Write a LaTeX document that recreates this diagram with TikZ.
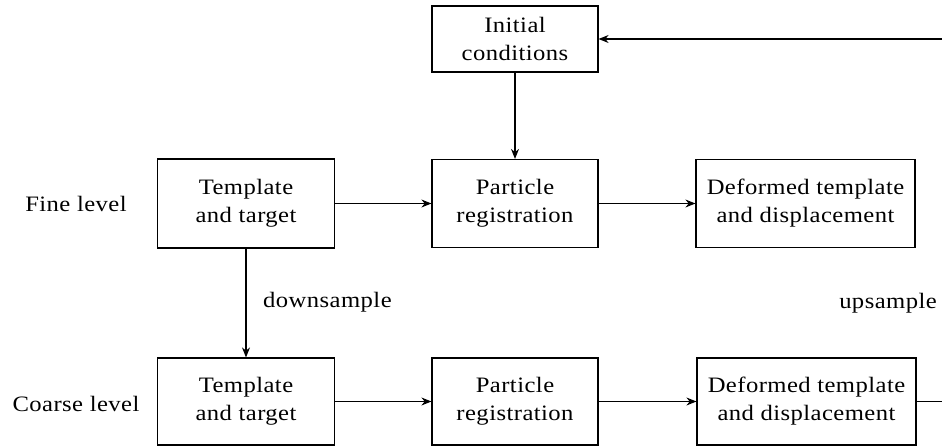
\documentclass[tikz,border=0pt]{standalone}
\usepackage{fontspec}
\setmainfont{Liberation Serif}[FakeStretch=1.12, LetterSpace=2]
\usetikzlibrary{arrows.meta}
\begin{document}
\begin{tikzpicture}[x=1pt,y=-1pt,
  box/.style={draw, line width=1.2pt, align=center, inner sep=0pt, font=\fontsize{22}{28}\selectfont},
  lbl/.style={font=\fontsize{22}{28}\selectfont, inner sep=0pt},
  arr/.style={line width=1.3pt, -{Stealth[length=10pt,width=8pt]}},
  ln/.style={line width=1.3pt}]
\useasboundingbox (0,0) rectangle (942,446);
\node[box, minimum width=166pt, minimum height=66pt] (init) at (515,39) {Initial\\conditions};
\node[box, minimum width=177pt, minimum height=89pt] (tt1) at (246,203.5) {Template\\and target};
\node[box, minimum width=166pt, minimum height=88pt] (pr1) at (515,203.5) {Particle\\registration};
\node[box, minimum width=219pt, minimum height=88pt] (df1) at (805.5,203.5) {Deformed template\\and displacement};
\node[box, minimum width=177pt, minimum height=87pt] (tt2) at (246,401.5) {Template\\and target};
\node[box, minimum width=166pt, minimum height=87pt] (pr2) at (515,401.5) {Particle\\registration};
\node[box, minimum width=219pt, minimum height=87pt] (df2) at (806.5,401.5) {Deformed template\\and displacement};
\node[lbl] (fine) at (76,204) {Fine level};
\node[lbl] (coarse) at (76,404) {Coarse level};
\node[lbl, anchor=west] (down) at (263,302) {downsample};
\node[lbl] (up) at (888,303) {upsample};
\coordinate (topr) at (942,39);
\coordinate (botr) at (942,401.5);
\draw[arr] (topr) -- (init.east);
\draw[arr] (init.south) -- (pr1.north);
\draw[arr] (tt1.east) -- (pr1.west);
\draw[arr] (pr1.east) -- (df1.west);
\draw[arr] (tt1.south) -- (tt2.north);
\draw[arr] (tt2.east) -- (pr2.west);
\draw[arr] (pr2.east) -- (df2.west);
\draw[ln] (df2.east) -- (botr);
\end{tikzpicture}
\end{document}
